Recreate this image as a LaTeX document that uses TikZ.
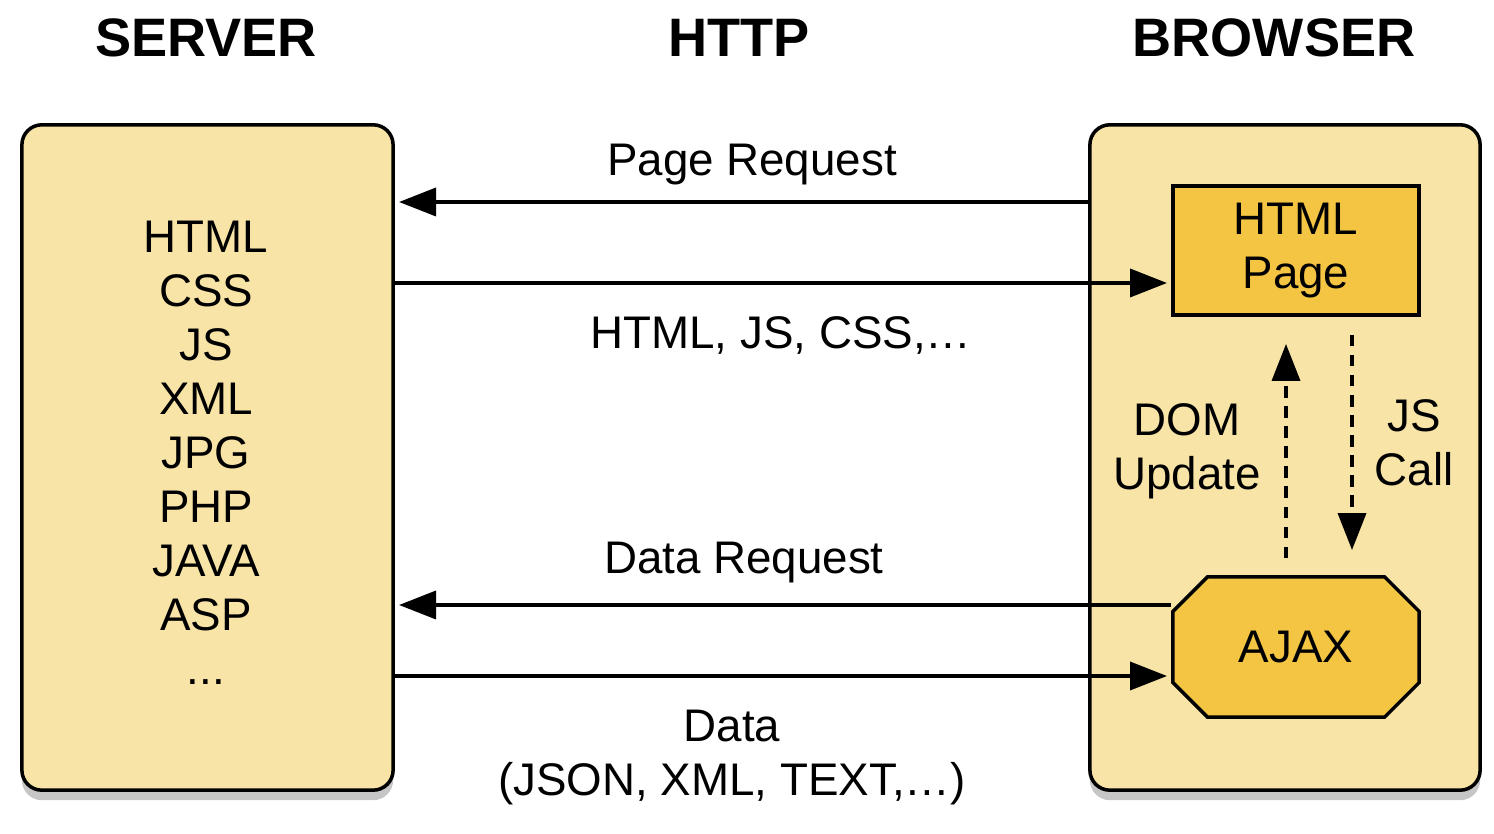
\documentclass[tikz,border=0pt]{standalone}
\usepackage{fontspec}
\setmainfont{Liberation Sans}
\usetikzlibrary{arrows.meta,shapes.misc,shadows}
\definecolor{panelyellow}{RGB}{247,228,166}
\definecolor{boxyellow}{RGB}{244,197,66}

\begin{document}
\begin{tikzpicture}[x=0.01cm, y=-0.01cm,
  panel/.style={draw, line width=1pt, rounded corners=0.2cm, fill=panelyellow, minimum height=6.65cm, drop shadow={shadow xshift=0pt, shadow yshift=-0.1cm, opacity=0.45}},
  part/.style={draw, line width=1pt, fill=boxyellow, minimum width=2.46cm, align=center, font=\fontsize{13}{15.36}\selectfont},
  txt/.style={align=center, font=\fontsize{13}{15.36}\selectfont},
  heading/.style={anchor=base, font=\fontsize{15.4}{18}\selectfont\bfseries},
  msg/.style={-{Triangle[length=10.5pt,width=8pt]}, line width=0.9pt, shorten >=1.2pt},
  call/.style={msg, dash pattern=on 3.3pt off 2.4pt}]
\useasboundingbox (0,0) rectangle (1494,834);
\node[panel, minimum width=3.71cm] (server) at (207.5,457.5) {};
\node[panel, minimum width=3.9cm] (browser) at (1285,457.5) {};
\node[part, minimum height=1.29cm] (page) at (1296,250.5) {HTML\\Page};
\node[part, chamfered rectangle, chamfered rectangle xsep=0.22cm, minimum height=1.4cm] (ajax) at (1296,647) {AJAX};
\node[heading] (servertitle) at (206,57) {SERVER};
\node[heading] (httptitle) at (739,57) {HTTP};
\node[heading] (browsertitle) at (1274,57) {BROWSER};
\node[txt] (stack) at (206,452.7) {HTML\\CSS\\JS\\XML\\JPG\\PHP\\JAVA\\ASP\\...};
\node[txt, anchor=base] (pagereq) at (752,176) {Page Request};
\node[txt, anchor=base] (pageresp) at (781,349) {HTML, JS, CSS,…};
\node[txt, anchor=base] (datareq) at (744,574) {Data Request};
\node[txt] (dataresp) at (732,757.5) {Data\\(JSON, XML, TEXT,…)};
\node[txt] (domupdate) at (1187,451.5) {DOM\\Update};
\node[txt] (jscall) at (1414,442.7) {JS\\Call};
\draw[msg] (browser.west |- 0,202) -- (server.east |- 0,202);
\draw[msg] (server.east |- 0,283) -- (page.west |- 0,283);
\draw[msg] (ajax.west |- 0,605) -- (server.east |- 0,605);
\draw[msg] (server.east |- 0,676) -- (ajax.west |- 0,676);
\draw[call] ([shift={(-10,-17)}]ajax.north) -- ([shift={(-10,23)}]page.south);
\draw[call] ([shift={(56,18)}]page.south) -- ([shift={(56,-21)}]ajax.north);
\end{tikzpicture}
\end{document}
